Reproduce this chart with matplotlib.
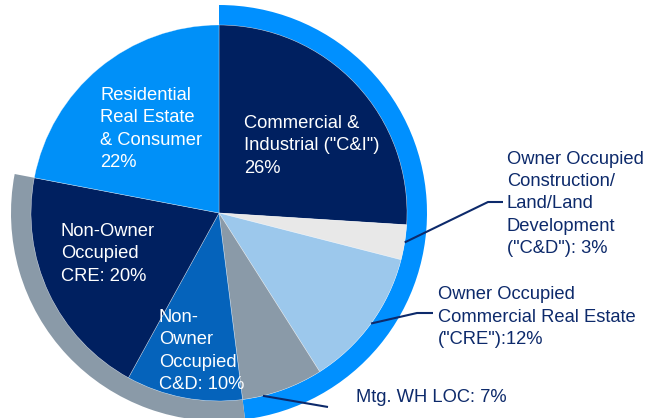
import numpy as np
import matplotlib
matplotlib.use("Agg")
import matplotlib.pyplot as plt

plt.rcParams['font.family'] = ['Liberation Sans', 'DejaVu Sans']

# ---- data ----
categories = ['Commercial & Industrial ("C&I")',
              'Owner Occupied C&D',
              'Owner Occupied CRE',
              'Mtg. WH LOC',
              'Non-Owner Occupied C&D',
              'Non-Owner Occupied CRE',
              'Residential Real Estate & Consumer']
values = [26, 3, 12, 7, 10, 20, 22]
slice_colors = ['#002060', '#E8E8E8', '#9CC8EC', '#8A9AA8', '#0563BB', '#002060', '#0090F8']

# outer ring groups: owner-occupied/C&I group, non-owner group, residential (no ring)
ring_groups = [[0, 1, 2, 3], [4, 5], [6]]
ring_colors = ['#0090FF', '#8A9AA8', 'none']

inside_labels = {
    0: 'Commercial &\nIndustrial ("C&I")\n26%',
    4: 'Non-\nOwner\nOccupied\nC&D: 10%',
    5: 'Non-Owner\nOccupied\nCRE: 20%',
    6: 'Residential\nReal Estate\n& Consumer\n22%',
}
outside_labels = {
    1: 'Owner Occupied\nConstruction/\nLand/Land\nDevelopment\n("C&D"): 3%',
    2: 'Owner Occupied\nCommercial Real Estate\n("CRE"):12%',
    3: 'Mtg. WH LOC: 7%',
}

# ---- layout (pixel coordinates, y measured from top) ----
W, H = 648, 418
cx, cy_top = 219, 213
R = 188
ring_w = 20
inside_pos = {0: (244, 146), 4: (159, 351), 5: (61, 254), 6: (100, 129)}
outside_pos = {1: (507, 204), 2: (438, 317), 3: (356, 398)}
leader_frac = {1: 0.5, 2: 0.5, 3: 0.75}
leader_pts = {1: [(488, 202), (503, 202)],
              2: [(417, 313), (433, 313)],
              3: [(328, 407)]}
navy = '#0D2A6B'
fs = 13.2
ls = 1.4

fig = plt.figure(figsize=(W / 100, H / 100), dpi=100)
ax = fig.add_axes([0, 0, 1, 1])

center = (cx, H - cy_top)
ring_vals = [sum(values[i] for i in g) for g in ring_groups]
ax.pie(ring_vals, colors=ring_colors, startangle=90, counterclock=False,
       radius=R + ring_w, center=center,
       wedgeprops=dict(width=ring_w, linewidth=0))
wedges, _ = ax.pie(values, colors=slice_colors, startangle=90, counterclock=False,
                   radius=R, center=center,
                   wedgeprops=dict(linewidth=0.4, edgecolor='#FFFFFF80'))

ax.set_xlim(0, W)
ax.set_ylim(0, H)
ax.set_aspect('equal')
ax.axis('off')

for i, txt in inside_labels.items():
    x, y = inside_pos[i]
    ax.text(x, H - y, txt, color='white', fontsize=fs, ha='left', va='center',
            linespacing=ls)

for i, txt in outside_labels.items():
    x, y = outside_pos[i]
    ax.text(x, H - y, txt, color=navy, fontsize=fs, ha='left', va='center',
            linespacing=ls)
    w = wedges[i]
    f = leader_frac[i]
    ang = np.deg2rad(w.theta2 + (w.theta1 - w.theta2) * f)
    sx = cx + R * np.cos(ang)
    sy = (H - cy_top) + R * np.sin(ang)
    xs = [sx] + [p[0] for p in leader_pts[i]]
    ys = [sy] + [H - p[1] for p in leader_pts[i]]
    ax.plot(xs, ys, color=navy, lw=1.5, solid_capstyle='butt')

fig.savefig('out.png', dpi=100)
